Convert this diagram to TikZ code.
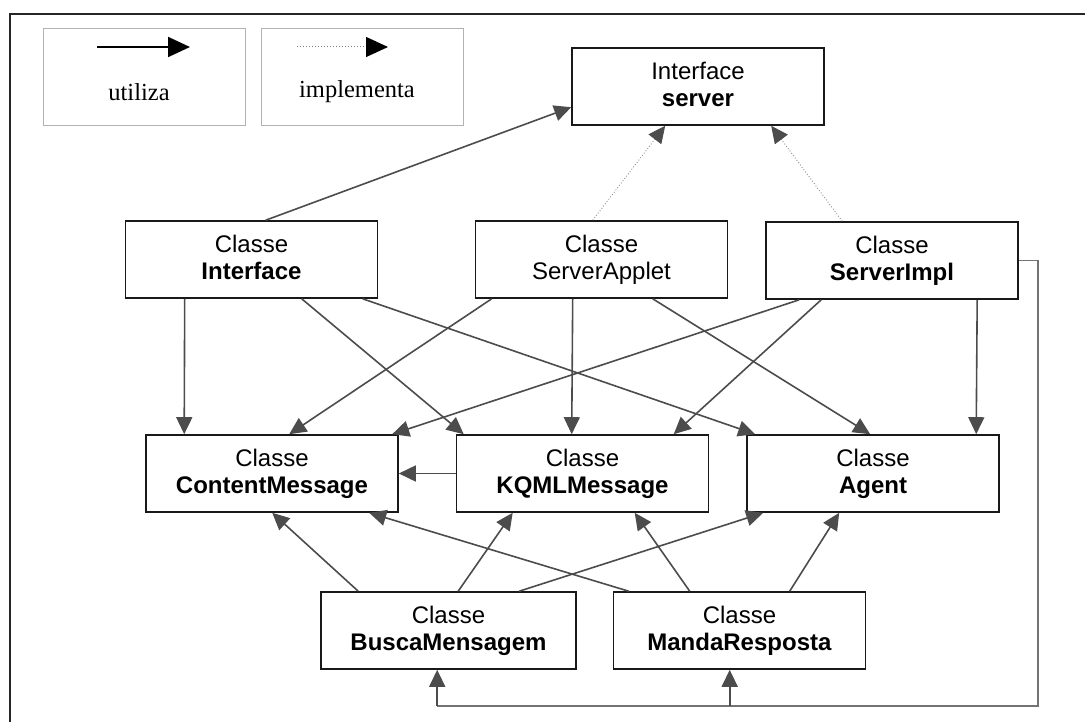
\documentclass[tikz,border=0pt]{standalone}
\usepackage{fontspec}
\setmainfont{Liberation Sans}
\newfontfamily\legendfont{Liberation Serif}
\usetikzlibrary{arrows.meta,calc}
\begin{document}
\begin{tikzpicture}[x=1pt,y=-1pt,
  cls/.style={draw=black!90,line width=1.6pt,minimum width=252pt,minimum height=77pt,
    inner sep=0pt,align=center,font=\fontsize{24}{27}\selectfont,
    execute at begin node={\rule{0pt}{22pt}},
    execute at end node={\rule[-5pt]{0pt}{5pt}}},
  uses/.style={draw=black!70,line width=1.6pt,-{Triangle[length=17pt,width=16pt]}},
  wire/.style={draw=black!55,line width=1.4pt},
  implements/.style={draw=black!45,line width=0.9pt,dotted,
    -{Triangle[length=17pt,width=16pt,color=black!70,fill=black!70]}},
  legbox/.style={draw=black!30,line width=0.8pt,minimum width=202pt,minimum height=97pt,inner sep=0pt},
  legtext/.style={font=\legendfont\fontsize{24.5}{28}\selectfont,inner sep=0pt}]
\useasboundingbox (0,0) rectangle (1085,722);

% open frame (top and left edges)
\draw[line width=2pt,black!85] (10,722) -- (10,14) -- (1085,14);

% legend
\node[legbox] (legU) at (144,76.5) {};
\node[legbox] (legI) at (362,76.5) {};
\coordinate (uA) at (97,47);
\coordinate (uB) at (190,47);
\draw[line width=1.8pt,black,-{Triangle[length=22pt,width=20pt]}] (uA) -- (uB);
\node[legtext] (uT) at (139,92) {utiliza};
\coordinate (iA) at (297,47);
\coordinate (iB) at (388,47);
\draw[line width=1pt,black!50,dotted,-{Triangle[length=22pt,width=20pt,color=black,fill=black]}] (iA) -- (iB);
\node[legtext] (iT) at (357,92) {implementa};

% classes
\node[cls] (server) at (698,86.5) {Interface\\\textbf{server}};
\node[cls] (iface)  at (251.5,259.5) {Classe\\\textbf{Interface}};
\node[cls] (applet) at (601.5,259.5) {Classe\\ServerApplet};
\node[cls] (impl)   at (892,260.5) {Classe\\\textbf{ServerImpl}};
\node[cls] (content) at (272,473.5) {Classe\\\textbf{ContentMessage}};
\node[cls] (kqml)   at (582.5,473.5) {Classe\\\textbf{KQMLMessage}};
\node[cls] (agent)  at (873,473.5) {Classe\\\textbf{Agent}};
\node[cls,minimum width=255pt] (busca) at (448.5,630.5) {Classe\\\textbf{BuscaMensagem}};
\node[cls] (manda)  at (739.5,630.5) {Classe\\\textbf{MandaResposta}};

% toward the server interface
\draw[uses] ($(iface.north west)+(141,0)$) -- ($(server.north west)+(0,60)$);
\draw[implements] ($(applet.north west)+(118,0)$) -- ($(server.south west)+(94,0)$);
\draw[implements] ($(impl.north west)+(77,0)$) -- ($(server.south west)+(200,0)$);

% second row to third row
\draw[uses] ($(iface.south west)+(60,0)$) -- ($(content.north west)+(39,0)$);
\draw[uses] ($(iface.south west)+(177,0)$) -- ($(kqml.north west)+(8,0)$);
\draw[uses] ($(iface.south west)+(238,0)$) -- ($(agent.north west)+(9,0)$);
\draw[uses] ($(applet.south west)+(17,0)$) -- ($(content.north west)+(144,0)$);
\draw[uses] ($(applet.south west)+(98,0)$) -- ($(kqml.north west)+(116,0)$);
\draw[uses] ($(applet.south west)+(178,0)$) -- ($(agent.north west)+(124,0)$);
\draw[uses] ($(impl.south west)+(34,0)$) -- ($(content.north west)+(247,0)$);
\draw[uses] ($(impl.south west)+(56,0)$) -- ($(kqml.north west)+(218,0)$);
\draw[uses] ($(impl.south west)+(212,0)$) -- ($(agent.north west)+(230,0)$);

% within the third row
\draw[uses] (kqml.west) -- (content.east);

% fourth row to third row
\draw[uses] ($(busca.north west)+(38,0)$) -- ($(content.south west)+(127,0)$);
\draw[uses] ($(busca.north west)+(138,0)$) -- ($(kqml.south west)+(57,0)$);
\draw[uses] ($(busca.north west)+(199,0)$) -- ($(agent.south west)+(17,0)$);
\draw[uses] ($(manda.north west)+(16,0)$) -- ($(content.south west)+(224,0)$);
\draw[uses] ($(manda.north west)+(77,0)$) -- ($(kqml.south west)+(179,0)$);
\draw[uses] ($(manda.north west)+(177,0)$) -- ($(agent.south west)+(93,0)$);

% return path from ServerImpl to the bottom row
\coordinate (fbBot) at (1038,706);
\coordinate (buscaIn) at ($(busca.south west)+(117,0)$);
\coordinate (mandaIn) at ($(manda.south west)+(117,0)$);
\draw[wire] (impl.east) -- (impl.east -| fbBot) -- (fbBot) -- (fbBot -| buscaIn);
\draw[uses] (fbBot -| buscaIn) -- (buscaIn);
\draw[uses] (fbBot -| mandaIn) -- (mandaIn);
\end{tikzpicture}
\end{document}
